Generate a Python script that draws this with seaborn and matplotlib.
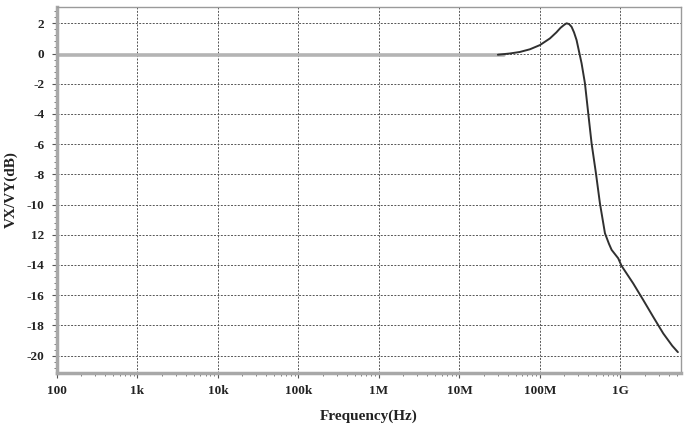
#!/usr/bin/env python3
"""AC response VX/VY (dB) vs frequency, log x-axis, simulator-style grid."""

import matplotlib
matplotlib.use("Agg")
import matplotlib.pyplot as plt
import matplotlib.ticker as mticker
import numpy as np
import pandas as pd
import seaborn as sns

# flat (gray) part of the trace
FLAT_FREQ = [100, 1e3, 1e4, 1e5, 1e6, 1e7, 36e6]
FLAT_DB = [-0.08, -0.08, -0.08, -0.08, -0.08, -0.08, -0.08]

# dark part of the trace: peaking then roll-off
CURVE_FREQ = [30e6, 42e6, 56e6, 75e6, 100e6, 133e6, 160e6, 180e6, 200e6,
              214e6, 230e6, 247e6, 265e6, 285e6, 329e6, 362e6, 398e6,
              438e6, 496e6, 556e6, 642e6, 720e6, 777e6, 860e6, 939e6,
              1.03e9, 1.44e9, 1.92e9, 2.55e9, 3.4e9, 4.4e9, 5.17e9]
CURVE_DB = [-0.08, 0.0, 0.1, 0.28, 0.56, 1.0, 1.4, 1.7, 1.9,
            2.0, 1.95, 1.77, 1.4, 0.89, -0.65, -1.97, -3.96,
            -5.95, -7.93, -9.92, -11.9, -12.6, -13.0, -13.3, -13.56,
            -14.05, -15.22, -16.32, -17.43, -18.53, -19.35, -19.77]

X_TICKS = [1e2, 1e3, 1e4, 1e5, 1e6, 1e7, 1e8, 1e9]
X_LABELS = ["100", "1k", "10k", "100k", "1M", "10M", "100M", "1G"]
Y_TICKS = [2, 0, -2, -4, -6, -8, -10, -12, -14, -16, -18, -20]
Y_LABELS = ["2", "0", "-2", "-4", "-6", "-8", "-10", "12", "-14", "-16",
            "-18", "-20"]


def main() -> None:
    sns.set_theme(style="white")
    plt.rcParams["font.family"] = ["Liberation Serif", "DejaVu Serif"]
    plt.rcParams["xtick.bottom"] = True
    plt.rcParams["ytick.left"] = True

    flat = pd.DataFrame({"freq": FLAT_FREQ, "db": FLAT_DB})
    curve = pd.DataFrame({"freq": CURVE_FREQ, "db": CURVE_DB})

    fig = plt.figure(figsize=(6.84, 4.24), dpi=100)
    ax = fig.add_axes([0.0833, 0.1203, 0.9123, 0.8632])

    sns.lineplot(data=flat, x="freq", y="db", color="#b4b4b4",
                 linewidth=2.6, ax=ax)
    sns.lineplot(data=curve, x="freq", y="db", color="#303030",
                 linewidth=1.4, ax=ax)

    ax.set_xscale("log")
    ax.set_xlim(100, 5.65e9)
    ax.set_ylim(-21.15, 3.08)

    ax.set_xticks(X_TICKS)
    ax.set_xticklabels(X_LABELS)
    ax.xaxis.set_minor_locator(mticker.LogLocator(base=10, subs=np.arange(2, 10)))
    ax.xaxis.set_minor_formatter(mticker.NullFormatter())
    ax.set_yticks(Y_TICKS)
    ax.set_yticklabels(Y_LABELS)
    ax.yaxis.set_minor_locator(mticker.MultipleLocator(0.4))

    for lbl in ax.get_xticklabels() + ax.get_yticklabels():
        lbl.set_fontweight("bold")
        lbl.set_fontsize(9.5)
        lbl.set_color("#222222")

    ax.tick_params(axis="both", which="major", direction="out", length=3.6,
                   width=0.8, color="#555555")
    ax.tick_params(axis="both", which="minor", direction="out", length=2,
                   width=0.6, color="#666666")
    ax.tick_params(axis="y", which="major", pad=5.5)
    ax.tick_params(axis="x", which="major", pad=5)

    ax.grid(True, which="major", color="#555555", linestyle=(0, (2, 1.5)),
            linewidth=0.7)

    for side in ("left", "bottom"):
        ax.spines[side].set_color("#a8a8a8")
        ax.spines[side].set_linewidth(2.5)
    for side in ("top", "right"):
        ax.spines[side].set_color("#9a9a9a")
        ax.spines[side].set_linewidth(1.0)

    ax.set_xlabel("Frequency(Hz)", fontweight="bold", fontsize=11,
                  color="#222222", labelpad=9)
    ax.set_ylabel("VX/VY(dB)", fontweight="bold", fontsize=11,
                  color="#222222", labelpad=6)

    fig.savefig("out.png", dpi=100)
    plt.close(fig)


if __name__ == "__main__":
    main()
